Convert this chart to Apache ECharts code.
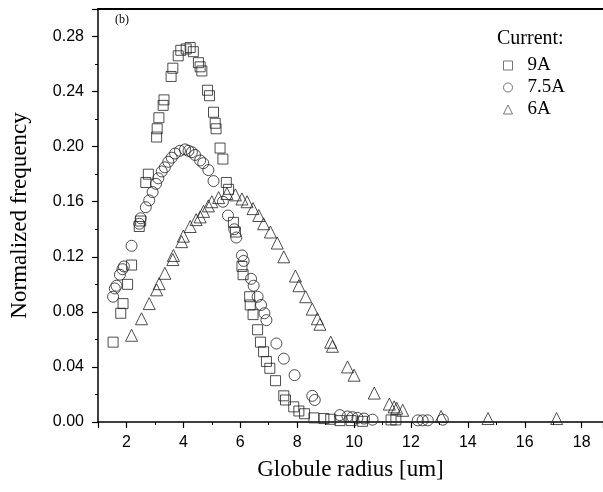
<!DOCTYPE html>
<html>
<head>
<meta charset="utf-8">
<script src="https://cdn.jsdelivr.net/npm/echarts@6/dist/echarts.min.js"></script>
<style>
  html, body { margin: 0; padding: 0; background: #fff; }
  #chart { width: 603px; height: 492px; }
</style>
</head>
<body>
<div id="chart"></div>
<script>
// 9A (squares)
const x9 = [1.53, 1.80, 1.88, 2.04, 2.18, 2.45, 2.50, 2.68, 2.77, 3.06, 3.08, 3.14, 3.29, 3.32, 3.57, 3.63, 3.82, 3.91, 4.10, 4.24,
  4.35, 4.53, 4.59, 4.65, 4.85, 4.92, 5.06, 5.12, 5.15, 5.29, 5.39, 5.51, 5.59, 5.76, 5.83, 6.06, 6.10, 6.33, 6.35, 6.45,
  6.61, 6.71, 6.82, 6.92, 7.04, 7.24, 7.53, 7.59, 7.88, 8.06, 8.26, 8.59, 8.94, 9.18, 9.50, 9.90, 10.30, 11.30, 11.47]
const y9 = [0.058, 0.079, 0.086, 0.100, 0.114, 0.142, 0.146, 0.174, 0.180, 0.207, 0.213, 0.221, 0.230, 0.234, 0.251, 0.257, 0.266, 0.270, 0.271, 0.272,
  0.269, 0.261, 0.258, 0.255, 0.241, 0.237, 0.225, 0.217, 0.213, 0.199, 0.191, 0.174, 0.169, 0.145, 0.138, 0.113, 0.107, 0.091, 0.085, 0.078,
  0.067, 0.058, 0.051, 0.044, 0.039, 0.030, 0.019, 0.016, 0.011, 0.008, 0.006, 0.003, 0.0025, 0.002, 0.001, 0.001, 0.0005, 0.0015, 0.0015]

// 7.5A (circles)
const x75 = [1.53, 1.59, 1.65, 1.77, 1.86, 1.91, 2.18, 2.45, 2.50, 2.68, 2.80, 2.92, 3.04, 3.12, 3.24, 3.35, 3.47, 3.59, 3.71, 3.88,
  4.06, 4.18, 4.30, 4.41, 4.59, 4.70, 4.88, 5.06, 5.39, 5.57, 5.79, 5.86, 6.06, 6.12, 6.38, 6.47, 6.61, 6.73, 6.85, 6.92,
  7.27, 7.53, 7.91, 8.53, 8.62, 9.50, 9.77, 9.94, 10.12, 10.35, 10.65, 12.24, 12.41, 12.59, 13.12]
const y75 = [0.091, 0.097, 0.099, 0.107, 0.111, 0.113, 0.128, 0.144, 0.148, 0.156, 0.161, 0.167, 0.173, 0.177, 0.182, 0.185, 0.189, 0.192, 0.195, 0.197,
  0.198, 0.197, 0.196, 0.194, 0.190, 0.188, 0.183, 0.175, 0.160, 0.150, 0.140, 0.134, 0.121, 0.117, 0.104, 0.099, 0.091, 0.085, 0.079, 0.074,
  0.057, 0.046, 0.034, 0.019, 0.016, 0.005, 0.004, 0.0035, 0.003, 0.0025, 0.0017, 0.0012, 0.0012, 0.0012, 0.0017]

// 6A (triangles)
const x6 = [2.18, 2.53, 2.80, 3.06, 3.15, 3.35, 3.63, 3.65, 3.94, 4.00, 4.24, 4.45, 4.59, 4.71, 4.88, 5.00, 5.24, 5.53, 5.83, 6.06,
  6.24, 6.45, 6.65, 6.82, 7.06, 7.30, 7.53, 7.94, 8.06, 8.30, 8.53, 8.71, 8.80, 9.18, 9.24, 9.77, 10.00, 10.71, 11.24, 11.41,
  11.50, 11.71, 13.06, 14.71, 17.12]
const y6 = [0.063, 0.075, 0.086, 0.096, 0.1005, 0.108, 0.118, 0.121, 0.131, 0.135, 0.142, 0.147, 0.149, 0.153, 0.157, 0.160, 0.163, 0.166, 0.165, 0.162,
  0.160, 0.155, 0.150, 0.144, 0.138, 0.130, 0.120, 0.106, 0.099, 0.091, 0.082, 0.075, 0.071, 0.058, 0.055, 0.040, 0.034, 0.021, 0.013, 0.011,
  0.010, 0.0085, 0.004, 0.0025, 0.0025]

const names = ['9A', '7.5A', '6A']
const symbols = ['rect', 'circle', 'triangle']
const sizes = [10, 11, 12]

const pair = (xs, ys) => xs.map((v, i) => [v, ys[i]])
const seriesData = [pair(x9, y9), pair(x75, y75), pair(x6, y6)]

const serif = '"Liberation Serif", "DejaVu Serif", serif'
const sans = '"Liberation Sans", Arial, sans-serif'

let myChart = echarts.init(document.getElementById('chart'))
myChart.setOption({
  animation: false,
  grid: { left: 98, right: 0, top: 9, bottom: 70, containLabel: false, outerBoundsMode: 'none' },
  legend: {
    orient: 'vertical',
    left: 498,
    top: 51,
    itemGap: 3,
    itemWidth: 9,
    itemHeight: 9,
    itemStyle: { color: 'rgba(0,0,0,0)', borderColor: '#555', borderWidth: 1 },
    textStyle: { fontFamily: serif, fontSize: 19, color: '#000', padding: [0, 0, 0, 10] },
    data: names
  },
  graphic: [
    { type: 'text', left: 497, top: 29, style: { text: 'Current:', font: '20px ' + serif, fill: '#000' } },
    { type: 'text', left: 115, top: 14, style: { text: '(b)', font: '12px ' + serif, fill: '#000' } }
  ],
  xAxis: [
    {
      type: 'value',
      min: 1,
      max: 18.75,
      minInterval: 2,
      maxInterval: 2,
      name: 'Globule radius [um]',
      nameLocation: 'middle',
      nameGap: 36,
      nameTextStyle: { fontFamily: serif, fontSize: 23, color: '#000' },
      axisLine: { lineStyle: { color: '#000', width: 1.5 } },
      axisTick: { inside: false, length: 6, lineStyle: { color: '#000', width: 1.2 } },
      minorTick: { show: true, splitNumber: 2, length: 3, lineStyle: { color: '#000', width: 1 } },
      axisLabel: { fontFamily: sans, fontSize: 16, color: '#000', margin: 13, showMinLabel: false, showMaxLabel: false },
      splitLine: { show: false }
    },
    {
      type: 'value',
      position: 'top',
      min: 1,
      max: 18.75,
      axisLine: { show: true, lineStyle: { color: '#000', width: 2 } },
      axisTick: { show: false },
      axisLabel: { show: false },
      splitLine: { show: false }
    }
  ],
  yAxis: {
    type: 'value',
    min: 0,
    max: 0.3,
    interval: 0.04,
    name: 'Normalized frequency',
    nameLocation: 'middle',
    nameGap: 67,
    nameTextStyle: { fontFamily: serif, fontSize: 23, color: '#000' },
    axisLine: { show: true, lineStyle: { color: '#000', width: 1.5 } },
    axisTick: { inside: false, length: 6, lineStyle: { color: '#000', width: 1.2 } },
    minorTick: { show: true, splitNumber: 2, length: 3, lineStyle: { color: '#000', width: 1 } },
    axisLabel: { fontFamily: sans, fontSize: 16, color: '#000', margin: 14, formatter: v => v.toFixed(2), showMaxLabel: false },
    splitLine: { show: false }
  },
  series: names.map((n, i) => ({
    name: n,
    type: 'scatter',
    xAxisIndex: 0,
    symbol: symbols[i],
    symbolSize: sizes[i],
    data: seriesData[i],
    itemStyle: { color: 'rgba(0,0,0,0)', borderColor: '#222', borderWidth: 1 }
  }))
})
</script>
</body>
</html>
